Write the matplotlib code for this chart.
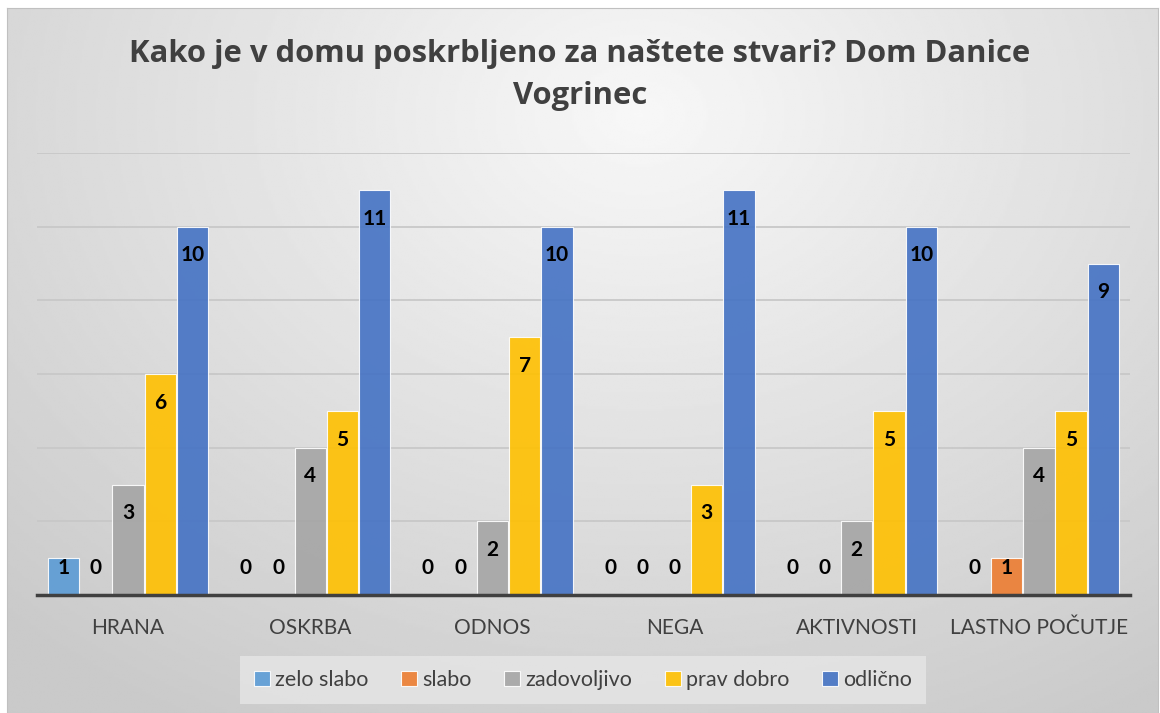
import numpy as np
import matplotlib
matplotlib.use("Agg")
import matplotlib.pyplot as plt


categories = ["HRANA", "OSKRBA", "ODNOS", "NEGA", "AKTIVNOSTI", "LASTNO POČUTJE"]
series_names = ["zelo slabo", "slabo", "zadovoljivo", "prav dobro", "odlično"]
zelo_slabo = [1, 0, 0, 0, 0, 0]
slabo = [0, 0, 0, 0, 0, 1]
zadovoljivo = [3, 4, 2, 0, 2, 4]
prav_dobro = [6, 5, 7, 3, 5, 5]
odlicno = [10, 11, 10, 11, 10, 9]
series = [zelo_slabo, slabo, zadovoljivo, prav_dobro, odlicno]
colors = ["#5B9BD5", "#ED7D31", "#A5A5A5", "#FFC000", "#4472C4"]

title = "Kako je v domu poskrbljeno za naštete stvari? Dom Danice\nVogrinec"

fig = plt.figure(figsize=(11.6, 7.13), dpi=100, facecolor="white")

# gradient background of the chart area
bg = fig.add_axes([7 / 1160, 0, 1151 / 1160, 705 / 713])
yy, xx = np.mgrid[0:1:300j, 0:1:500j]
r = np.sqrt(((xx - 0.55) / 0.8) ** 2 + ((yy - 0.15) / 1.0) ** 2)
bg.imshow(0.97 - 0.18 * np.clip(r, 0, 1), cmap="gray", vmin=0, vmax=1,
          aspect="auto", extent=[0, 1, 0, 1], origin="upper")
bg.set_xticks([])
bg.set_yticks([])
for s in bg.spines.values():
    s.set_color("#c0c0c0")

ax = fig.add_axes([37 / 1160, 1 - 595 / 713, 1093 / 1160, 442 / 713])
ax.patch.set_alpha(0)

x = np.arange(len(categories))
step = 0.177
width = 0.172
for j, (vals, col) in enumerate(zip(series, colors)):
    pos = x + (j - 2) * step
    ax.bar(pos, vals, width, color=col, edgecolor="white", linewidth=0.8,
           label=series_names[j], alpha=0.9, zorder=3)
    for p, v in zip(pos, vals):
        ax.text(p, max(v - 0.78, 0.73), str(v), ha="center", va="center",
                fontsize=15, fontweight="bold", color="black",
                family="Lato", zorder=4)

ax.set_xlim(-0.5, len(categories) - 0.5)
ax.set_ylim(0, 12)
ax.set_yticks(range(2, 13, 2))
ax.tick_params(axis="y", left=False, labelleft=False)
ax.tick_params(axis="x", bottom=False, pad=13)
ax.set_xticks(x)
ax.set_xticklabels(categories, fontsize=15, color="#404040", family="Lato")
ax.grid(axis="y", color="#c8c8c8", linewidth=1.3, zorder=0)
for s in ["top", "right", "left"]:
    ax.spines[s].set_visible(False)
ax.spines["bottom"].set_color("#404040")
ax.spines["bottom"].set_linewidth(2.5)
ax.spines["bottom"].set_zorder(5)

fig.text(0.5, 1 - 75 / 713, title, ha="center", va="center", fontsize=22.3,
         fontweight="bold", color="#404040", family="Open Sans", linespacing=1.55)

leg = fig.legend(loc="center", bbox_to_anchor=(583 / 1160, 1 - 680 / 713),
                 ncol=5, frameon=True, handlelength=0.75,
                 handleheight=0.75, handletextpad=0.25, columnspacing=1.5,
                 borderpad=0.65, prop={"family": "Lato", "size": 15.5})
leg.get_frame().set_facecolor("#e6e6e6")
leg.get_frame().set_edgecolor("none")
leg.get_frame().set_alpha(0.8)
leg.get_frame().set_boxstyle("square", pad=0)
for t in leg.get_texts():
    t.set_color("#404040")

fig.savefig("out.png", dpi=100, facecolor="white")
